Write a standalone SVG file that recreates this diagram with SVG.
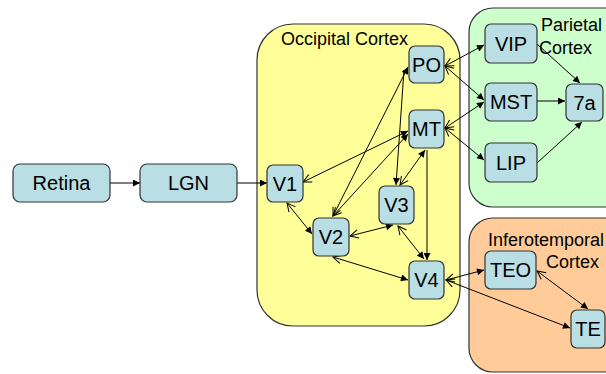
<svg xmlns="http://www.w3.org/2000/svg" width="606" height="374" viewBox="0 0 606 374">
  <style>
    .region { stroke: #333; stroke-width: 1.2; }
    .occipital { fill: #FFFF99; }
    .parietal { fill: #CCFFCC; }
    .temporal { fill: #FFCC99; }
    .box { fill: #B9DFE4; stroke: #333; stroke-width: 1.2; }
    .lbl { font-family: "Liberation Sans", Arial, sans-serif; font-size: 20px; fill: #000; text-anchor: middle; }
    .area { font-family: "Liberation Sans", Arial, sans-serif; font-size: 18px; fill: #000; }
    .edge line { stroke: #000; stroke-width: 1; fill: none; }
    .uni { marker-end: url(#solid); }
    .bi { marker-start: url(#open); marker-end: url(#solid); }
  </style>
  <defs>
    <marker id="solid" viewBox="0 0 10 10" refX="10" refY="5" markerWidth="9" markerHeight="7" markerUnits="userSpaceOnUse" orient="auto">
      <path d="M0,0 L10,5 L0,10 z" fill="#000"/>
    </marker>
    <marker id="open" viewBox="0 0 12 12" refX="11" refY="6" markerWidth="10" markerHeight="10" markerUnits="userSpaceOnUse" orient="auto-start-reverse">
      <path d="M1,1 L11,6 L1,11" fill="none" stroke="#000" stroke-width="1.2"/>
    </marker>
  </defs>

  <!-- cortical areas -->
  <g id="occipital-cortex">
    <rect class="region occipital" x="257" y="24" width="203" height="302" rx="36" ry="36"/>
    <text class="area" x="281" y="45">Occipital Cortex</text>
  </g>
  <g id="parietal-cortex">
    <rect class="region parietal" x="469" y="8" width="170" height="199" rx="24" ry="24"/>
    <text class="area" x="541" y="31">Parietal</text>
    <text class="area" x="539" y="54">Cortex</text>
  </g>
  <g id="inferotemporal-cortex">
    <rect class="region temporal" x="469" y="218" width="170" height="154" rx="24" ry="24"/>
    <text class="area" x="488" y="246">Inferotemporal</text>
    <text class="area" x="546" y="268">Cortex</text>
  </g>

  <!-- connectors -->
  <g id="connectors" class="edge">
    <line class="uni" x1="110" y1="183" x2="140" y2="183"/>
    <line class="uni" x1="237" y1="183" x2="267" y2="183"/>
    <line class="bi" x1="287" y1="203" x2="312" y2="234"/>
    <line class="bi" x1="303" y1="182" x2="408" y2="131"/>
    <line class="bi" x1="333" y1="216" x2="408" y2="134"/>
    <line class="bi" x1="333" y1="216" x2="408" y2="67"/>
    <line class="uni" x1="404" y1="70" x2="396" y2="185"/>
    <line class="bi" x1="400" y1="185" x2="425" y2="150"/>
    <line class="uni" x1="427" y1="150" x2="427" y2="260"/>
    <line class="bi" x1="398" y1="226" x2="424" y2="259"/>
    <line class="bi" x1="350" y1="236" x2="393" y2="225"/>
    <line class="bi" x1="333" y1="257" x2="408" y2="280"/>
    <line class="bi" x1="445" y1="66" x2="484" y2="45"/>
    <line class="bi" x1="445" y1="66" x2="484" y2="100"/>
    <line class="bi" x1="445" y1="128" x2="484" y2="102"/>
    <line class="bi" x1="445" y1="128" x2="484" y2="160"/>
    <line class="uni" x1="537" y1="44" x2="580" y2="83"/>
    <line class="uni" x1="537" y1="101" x2="565" y2="101"/>
    <line class="uni" x1="537" y1="163" x2="582" y2="122"/>
    <line class="bi" x1="446" y1="280" x2="484" y2="270"/>
    <line class="bi" x1="446" y1="280" x2="570" y2="328"/>
    <line class="bi" x1="537" y1="271" x2="588" y2="309"/>
  </g>

  <!-- nodes -->
  <g id="retina"><rect class="box" x="13" y="164" width="97" height="38" rx="7"/><text class="lbl" x="61.5" y="190">Retina</text></g>
  <g id="lgn"><rect class="box" x="140" y="164" width="97" height="38" rx="7"/><text class="lbl" x="188.5" y="190">LGN</text></g>
  <g id="v1"><rect class="box" x="267" y="165" width="36" height="37" rx="6"/><text class="lbl" x="285" y="191">V1</text></g>
  <g id="v2"><rect class="box" x="313" y="218" width="36" height="38" rx="6"/><text class="lbl" x="331" y="244">V2</text></g>
  <g id="v3"><rect class="box" x="379" y="186" width="35" height="38" rx="6"/><text class="lbl" x="396.5" y="212">V3</text></g>
  <g id="v4"><rect class="box" x="409" y="261" width="35" height="38" rx="6"/><text class="lbl" x="426.5" y="287">V4</text></g>
  <g id="po"><rect class="box" x="409" y="46" width="35" height="37" rx="6"/><text class="lbl" x="426.5" y="72">PO</text></g>
  <g id="mt"><rect class="box" x="409" y="110" width="35" height="38" rx="6"/><text class="lbl" x="426.5" y="136">MT</text></g>
  <g id="vip"><rect class="box" x="485" y="24" width="52" height="39" rx="6"/><text class="lbl" x="511" y="51">VIP</text></g>
  <g id="mst"><rect class="box" x="485" y="83" width="52" height="38" rx="6"/><text class="lbl" x="511" y="109">MST</text></g>
  <g id="lip"><rect class="box" x="485" y="143" width="52" height="39" rx="6"/><text class="lbl" x="511" y="170">LIP</text></g>
  <g id="area-7a"><rect class="box" x="566" y="84" width="37" height="37" rx="6"/><text class="lbl" x="584.5" y="110">7a</text></g>
  <g id="teo"><rect class="box" x="485" y="251" width="51" height="38" rx="6"/><text class="lbl" x="510.5" y="277">TEO</text></g>
  <g id="te"><rect class="box" x="571" y="310" width="34" height="38" rx="6"/><text class="lbl" x="588" y="336">TE</text></g>
</svg>
